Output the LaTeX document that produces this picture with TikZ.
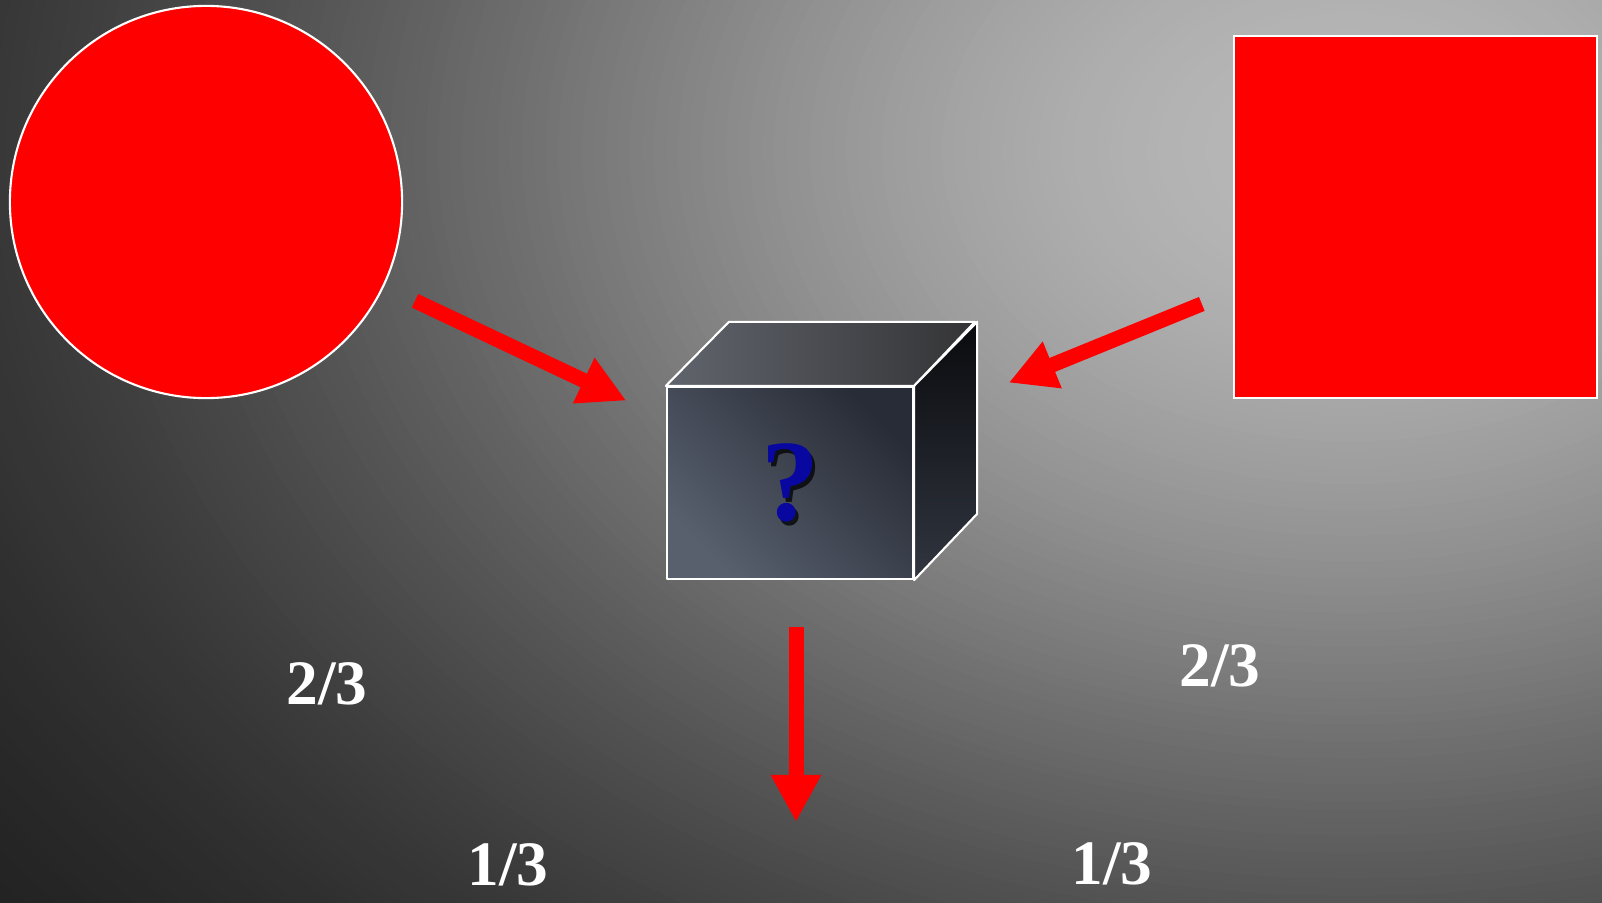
\documentclass[tikz,border=0pt]{standalone}
\usepackage{fontspec}
\setmainfont{Liberation Serif}
\usepackage{xcolor}
\usepackage{tikz}
\usetikzlibrary{arrows.meta, positioning, calc}

\definecolor{faceLight}{RGB}{88,96,110}
\definecolor{faceDark}{RGB}{40,44,54}
\definecolor{topLight}{RGB}{96,100,108}
\definecolor{topDark}{RGB}{52,52,54}
\definecolor{sideTop}{RGB}{10,11,14}
\definecolor{sideBot}{RGB}{48,53,63}
\definecolor{qblue}{RGB}{8,8,160}

\begin{document}
\begin{tikzpicture}[x=0.01cm, y=-0.01cm,
  shapebox/.style={draw=white, line width=0.6pt, fill=red, inner sep=0pt},
  face/.style={draw=white, line width=0.6pt, line join=round},
  flow/.style={red, line width=1.5mm, -{Triangle[length=4.7mm, width=4.7mm]}},
  ratio/.style={white, font=\fontsize{18}{20}\selectfont\bfseries, inner sep=0pt},
  qfont/.style={font=\fontsize{33}{35}\selectfont\bfseries, inner sep=0pt},
]
  % Background
  \useasboundingbox (0,0) rectangle (1602,903);
  \begin{scope}
    \clip (0,0) rectangle (1602,903);
    \foreach \k in {0,...,146} {
      \pgfmathsetmacro{\rr}{1764-12*\k}
      \pgfmathsetmacro{\ry}{\rr/1.4}
      \pgfmathsetmacro{\tone}{0.08+0.64*exp(-(\rr/1100)^2)}
      \definecolor{bgtone}{gray}{\tone}
      \fill[bgtone] (1350,150) ellipse [x radius=\rr, y radius=\ry];
    }
  \end{scope}

  % Inputs
  \node[shapebox, circle, minimum size=3.92cm] (circ) at (206,202) {};
  \node[shapebox, minimum width=3.63cm, minimum height=3.62cm] (sq) at (1415.5,217) {};

  % Black box
  \node[minimum width=3.09cm, minimum height=2.56cm, inner sep=0pt] (cube) at (821,459) {};
  \node[face, minimum width=2.46cm, minimum height=1.92cm, inner sep=0pt,
        top color=faceDark, bottom color=faceLight, shading angle=-45] (front) at (790,483) {};
  \path[face, left color=topLight, right color=topDark]
    (front.north west) -- ++(63,-64) -- ++(246,0) -- (front.north east) -- cycle;
  \path[face, top color=sideTop, bottom color=sideBot]
    (front.north east) -- ++(63,-64) -- ++(0,192) -- (front.south east) -- cycle;
  \node[qfont, text=black, opacity=0.75] (qshade) at ([shift={(4,4)}]front.center) {?};
  \node[qfont, text=qblue] (qmark) at ([shift={(1,0)}]front.center) {?};

  % Flows
  \draw[flow, shorten <=3.4mm, shorten >=18.1mm] (circ) -- ([yshift=0.05cm]front.center);
  \draw[flow, shorten <=3.35mm, shorten >=3.5mm] (sq) -- (cube);
  \coordinate (outtip) at (796,822);
  \draw[flow, shorten <=4.7mm] (front.south -| outtip) -- (outtip);

  % Ratios
  \node[ratio] (r1) at (327,684) {2/3};
  \node[ratio] (r2) at (508,865) {1/3};
  \node[ratio] (r3) at (1220,666) {2/3};
  \node[ratio] (r4) at (1112,864) {1/3};
\end{tikzpicture}
\end{document}
